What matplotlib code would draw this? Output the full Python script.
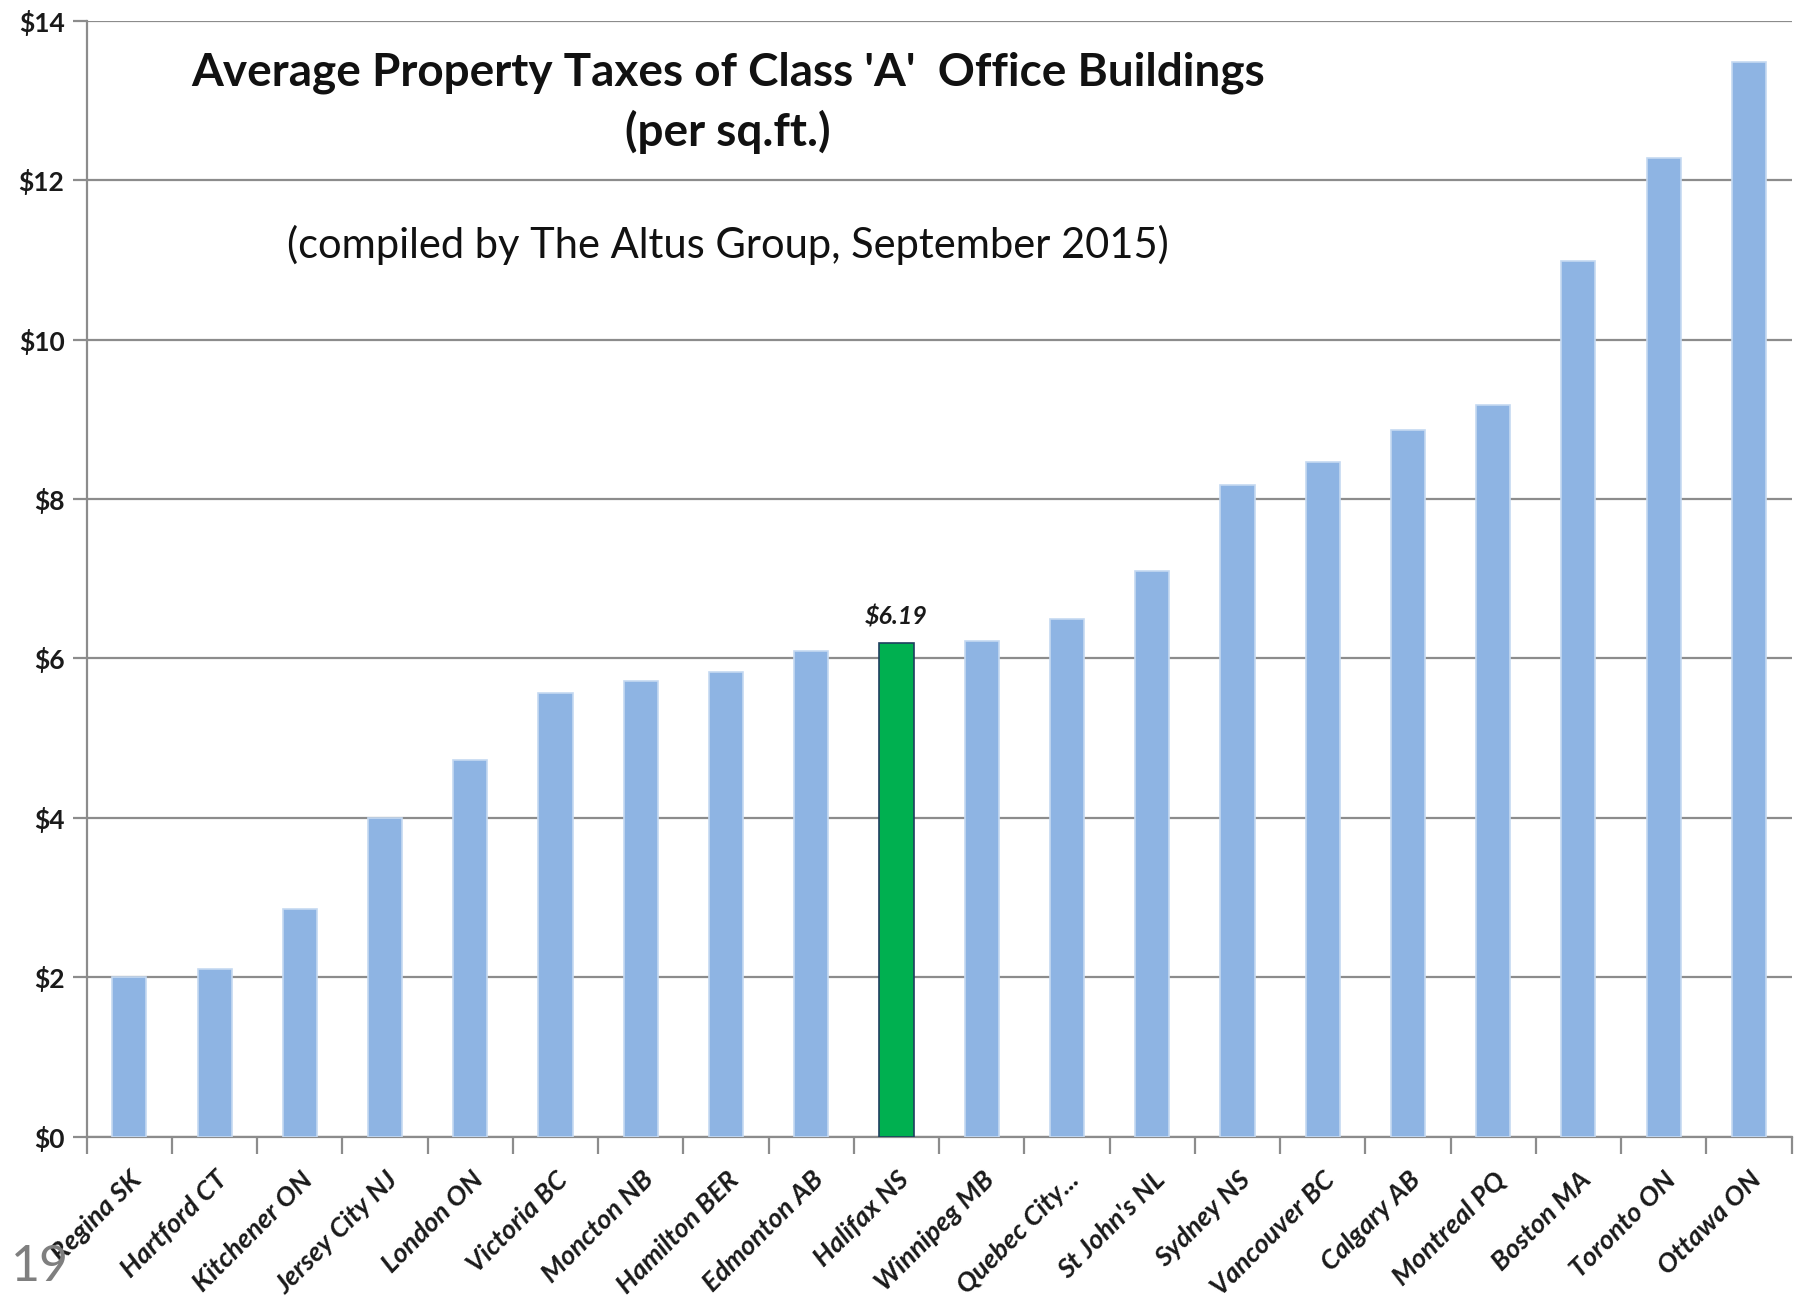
import numpy as np
import matplotlib.pyplot as plt

# data
cities = ["Regina SK", "Hartford CT", "Kitchener ON", "Jersey City NJ", "London ON",
          "Victoria BC", "Moncton NB", "Hamilton BER", "Edmonton AB", "Halifax NS",
          "Winnipeg MB", "Quebec City...", "St John's NL", "Sydney NS", "Vancouver BC",
          "Calgary AB", "Montreal PQ", "Boston MA", "Toronto ON", "Ottawa ON"]
taxes = [2.00, 2.10, 2.86, 4.00, 4.72, 5.57, 5.72, 5.83, 6.09, 6.19,
         6.22, 6.50, 7.10, 8.18, 8.46, 8.86, 9.18, 10.99, 12.28, 13.48]
highlight = "Halifax NS"
yticks = [0, 2, 4, 6, 8, 10, 12, 14]

plt.rcParams['font.family'] = ['Lato', 'DejaVu Sans']

fig = plt.figure(figsize=(18.06, 12.96), dpi=100)
ax = fig.add_axes([0.048, 0.123, 0.944, 0.861])

x = np.arange(len(cities))
colors = ["#00B050" if c == highlight else "#8EB4E3" for c in cities]
edges = ["#1F3F5F" if c == highlight else "#C5D9F1" for c in cities]
bars = ax.bar(x, taxes, width=0.4, color=colors, edgecolor=edges, linewidth=1.2, zorder=3)

hi = cities.index(highlight)
ax.text(x[hi], taxes[hi] + 0.18, "$%.2f" % taxes[hi], ha="center", va="bottom",
        fontsize=18, fontweight="bold", fontstyle="italic", color="#1a1a1a")

ax.set_xlim(-0.5, len(cities) - 0.5)
ax.set_ylim(0, 14)
ax.set_yticks(yticks)
ax.set_yticklabels(["$%d" % v for v in yticks], fontsize=19, fontweight="bold", color="#1a1a1a")
ax.grid(axis="y", color="#8C8C8C", linewidth=1.6, zorder=0)
ax.tick_params(axis="y", length=10, color="#8C8C8C", width=1.6, pad=6)

ax.set_xticks(x)
ax.set_xticklabels(cities, rotation=45, ha="right", rotation_mode="anchor",
                   fontsize=19.5, fontweight="bold", fontstyle="italic", color="#1a1a1a")
ax.tick_params(axis="x", length=0, pad=22)
ax.set_xticks(np.arange(-0.5, len(cities)), minor=True)
ax.tick_params(axis="x", which="minor", length=12, color="#8C8C8C", width=1.6)

for s in ["top", "right"]:
    ax.spines[s].set_visible(False)
for s in ["left", "bottom"]:
    ax.spines[s].set_color("#8C8C8C")
    ax.spines[s].set_linewidth(1.6)

fig.text(0.403, 0.944, "Average Property Taxes of Class 'A'  Office Buildings",
         ha="center", va="center", fontsize=33, fontweight="bold", color="#111111")
fig.text(0.403, 0.898, "(per sq.ft.)", ha="center", va="center",
         fontsize=33, fontweight="bold", color="#111111")
fig.text(0.403, 0.811, "(compiled by The Altus Group, September 2015)", ha="center",
         va="center", fontsize=30, color="#111111")
fig.text(0.006, 0.022, "19", ha="left", va="center", fontsize=36, color="#7F7F7F")

fig.savefig("out.png", dpi=100)
